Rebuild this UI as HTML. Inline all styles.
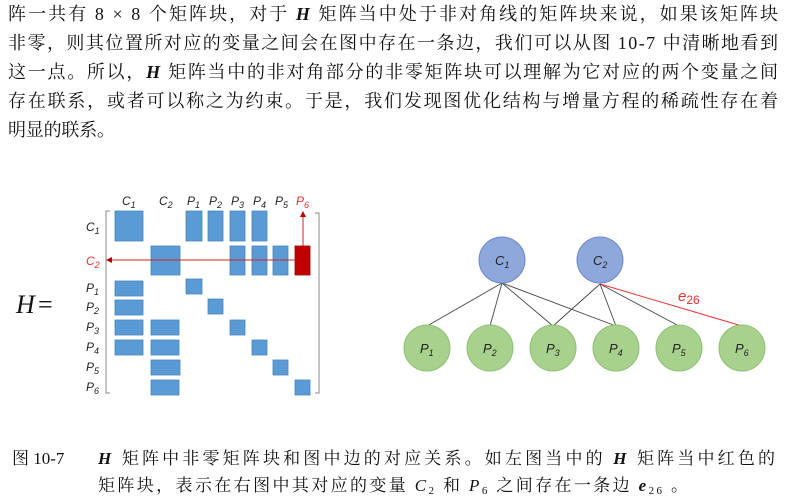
<!DOCTYPE html>
<html><head><meta charset="utf-8"><style>
html,body{margin:0;padding:0;background:#fff;}
svg{display:block;}
.t{font-family:"Liberation Serif","Noto Serif CJK SC",serif;font-size:18px;fill:#111;}
.c{font-family:"Liberation Serif","Noto Serif CJK SC",serif;font-size:17px;fill:#111;}
.m{font-family:"Liberation Sans","DejaVu Sans",sans-serif;font-style:italic;font-size:12px;fill:#222;}
.g{font-family:"Liberation Sans","DejaVu Sans",sans-serif;font-style:italic;font-size:13px;fill:#222;}
</style></head><body>
<svg width="791" height="499" viewBox="0 0 791 499" xmlns="http://www.w3.org/2000/svg">
<text class="t" x="8" y="20" textLength="770" lengthAdjust="spacing">阵一共有 8 × 8 个矩阵块，对于 <tspan font-weight="bold" font-style="italic">H</tspan> 矩阵当中处于非对角线的矩阵块来说，如果该矩阵块</text>
<text class="t" x="8" y="49" textLength="770" lengthAdjust="spacing">非零，则其位置所对应的变量之间会在图中存在一条边，我们可以从图 10-7 中清晰地看到</text>
<text class="t" x="8" y="78" textLength="770" lengthAdjust="spacing">这一点。所以，<tspan font-weight="bold" font-style="italic">H</tspan> 矩阵当中的非对角部分的非零矩阵块可以理解为它对应的两个变量之间</text>
<text class="t" x="8" y="107" textLength="770" lengthAdjust="spacing">存在联系，或者可以称之为约束。于是，我们发现图优化结构与增量方程的稀疏性存在着</text>
<text class="t" x="8" y="136" textLength="107" lengthAdjust="spacing">明显的联系。</text>

<text x="16" y="313" font-family="Liberation Serif,serif" font-style="italic" font-size="26" fill="#111">H</text>
<text x="38" y="313" font-family="Liberation Serif,serif" font-size="26" fill="#111">=</text>

<g class="m">
<text x="122" y="205">C<tspan font-size="9" dy="3">1</tspan></text>
<text x="159" y="205">C<tspan font-size="9" dy="3">2</tspan></text>
<text x="187" y="205">P<tspan font-size="9" dy="3">1</tspan></text>
<text x="209" y="205">P<tspan font-size="9" dy="3">2</tspan></text>
<text x="231" y="205">P<tspan font-size="9" dy="3">3</tspan></text>
<text x="253" y="205">P<tspan font-size="9" dy="3">4</tspan></text>
<text x="275" y="205">P<tspan font-size="9" dy="3">5</tspan></text>
<text x="296" y="205" style="fill:#e83030">P<tspan font-size="9" dy="3">6</tspan></text>
<text x="86" y="231">C<tspan font-size="9" dy="3">1</tspan></text>
<text x="86" y="265" style="fill:#e83030">C<tspan font-size="9" dy="3">2</tspan></text>
<text x="86" y="292">P<tspan font-size="9" dy="3">1</tspan></text>
<text x="86" y="311">P<tspan font-size="9" dy="3">2</tspan></text>
<text x="86" y="331">P<tspan font-size="9" dy="3">3</tspan></text>
<text x="86" y="351">P<tspan font-size="9" dy="3">4</tspan></text>
<text x="86" y="371">P<tspan font-size="9" dy="3">5</tspan></text>
<text x="86" y="391">P<tspan font-size="9" dy="3">6</tspan></text>
</g>

<path d="M110 211 H106 V393 H110" fill="none" stroke="#888" stroke-width="1"/>
<path d="M315 213 H319 V393 H315" fill="none" stroke="#888" stroke-width="1"/>

<g fill="#5b9bd5" stroke="#4a86be" stroke-width="0.8">
<rect x="115" y="211" width="28" height="30"/>
<rect x="186" y="211" width="16" height="30"/>
<rect x="208" y="211" width="15" height="30"/>
<rect x="230" y="211" width="15" height="30"/>
<rect x="252" y="211" width="15" height="30"/>
<rect x="151" y="246" width="29" height="29"/>
<rect x="230" y="246" width="15" height="29"/>
<rect x="252" y="246" width="15" height="29"/>
<rect x="273" y="246" width="15" height="29"/>
<rect x="115" y="281" width="28" height="15"/>
<rect x="186" y="279" width="16" height="15"/>
<rect x="115" y="300" width="28" height="15"/>
<rect x="208" y="299" width="15" height="15"/>
<rect x="115" y="320" width="28" height="15"/>
<rect x="151" y="320" width="28" height="15"/>
<rect x="230" y="320" width="15" height="15"/>
<rect x="115" y="340" width="28" height="15"/>
<rect x="151" y="340" width="28" height="15"/>
<rect x="252" y="340" width="15" height="15"/>
<rect x="151" y="360" width="29" height="15"/>
<rect x="273" y="360" width="15" height="15"/>
<rect x="151" y="380" width="28" height="15"/>
<rect x="295" y="380" width="15" height="15"/>
</g>
<rect x="295" y="246" width="15" height="29" fill="#c00000" stroke="#a00000" stroke-width="0.8"/>
<line x1="303" y1="246" x2="303" y2="216" stroke="#d62020" stroke-width="1"/>
<polygon points="303,211 300,217 306,217" fill="#c00000"/>
<line x1="295" y1="260" x2="112" y2="260" stroke="#d62020" stroke-width="1"/>
<polygon points="106,260 112,257 112,263" fill="#c00000"/>

<g stroke="#444" stroke-width="0.9">
<line x1="502" y1="283" x2="427" y2="326"/>
<line x1="502" y1="283" x2="490" y2="326"/>
<line x1="502" y1="283" x2="553" y2="326"/>
<line x1="502" y1="283" x2="616" y2="326"/>
<line x1="600" y1="284" x2="553" y2="326"/>
<line x1="600" y1="284" x2="616" y2="326"/>
<line x1="600" y1="284" x2="679" y2="326"/>
</g>
<line x1="600" y1="284" x2="742" y2="326" stroke="#e83030" stroke-width="1"/>
<text x="678" y="301" font-family="Liberation Sans,sans-serif" font-style="italic" font-size="15" fill="#e83030">e<tspan font-size="12" font-style="normal" dy="3">26</tspan></text>

<g fill="#8fa8dc" stroke="#6b86c8" stroke-width="1">
<circle cx="502" cy="260" r="23"/>
<circle cx="600" cy="260" r="23"/>
</g>
<g fill="#a9d18e" stroke="#8fbf72" stroke-width="1">
<circle cx="427" cy="348" r="23"/>
<circle cx="490" cy="348" r="23"/>
<circle cx="553" cy="348" r="23"/>
<circle cx="616" cy="348" r="23"/>
<circle cx="679" cy="348" r="23"/>
<circle cx="742" cy="348" r="23"/>
</g>
<g class="g">
<text x="495" y="265">C<tspan font-size="9" dy="3">1</tspan></text>
<text x="593" y="265">C<tspan font-size="9" dy="3">2</tspan></text>
<text x="420" y="353">P<tspan font-size="9" dy="3">1</tspan></text>
<text x="483" y="353">P<tspan font-size="9" dy="3">2</tspan></text>
<text x="546" y="353">P<tspan font-size="9" dy="3">3</tspan></text>
<text x="609" y="353">P<tspan font-size="9" dy="3">4</tspan></text>
<text x="672" y="353">P<tspan font-size="9" dy="3">5</tspan></text>
<text x="735" y="353">P<tspan font-size="9" dy="3">6</tspan></text>
</g>

<text class="c" x="12" y="464">图 10-7</text>
<text class="c" x="98" y="464" textLength="677" lengthAdjust="spacing"><tspan font-weight="bold" font-style="italic">H</tspan> 矩阵中非零矩阵块和图中边的对应关系。如左图当中的 <tspan font-weight="bold" font-style="italic">H</tspan> 矩阵当中红色的</text>
<text class="c" x="98" y="491" textLength="590" lengthAdjust="spacing">矩阵块，表示在右图中其对应的变量 <tspan font-style="italic">C</tspan><tspan font-size="11" dy="3">2</tspan><tspan dy="-3"> 和 </tspan><tspan font-style="italic">P</tspan><tspan font-size="11" dy="3">6</tspan><tspan dy="-3"> 之间存在一条边 </tspan><tspan font-weight="bold" font-style="italic">e</tspan><tspan font-size="11" dy="3">26</tspan><tspan dy="-3"> 。</tspan></text>
</svg>
</body></html>
